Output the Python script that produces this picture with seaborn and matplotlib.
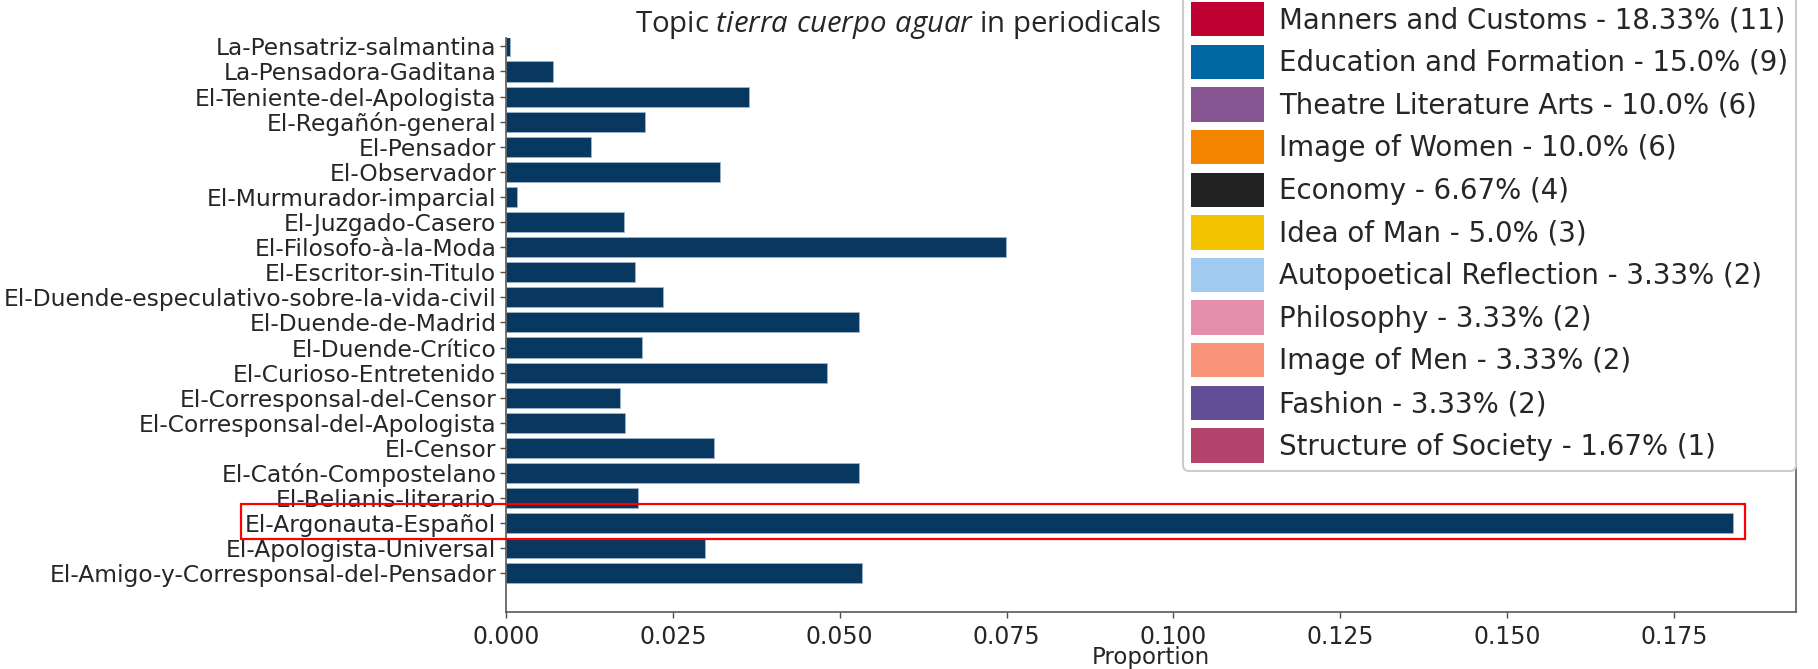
import matplotlib
matplotlib.use("Agg")
import matplotlib.pyplot as plt
import seaborn as sns
from matplotlib.patches import Patch, Rectangle

# ---- data ----
periodicals = [
    "La-Pensatriz-salmantina", "La-Pensadora-Gaditana", "El-Teniente-del-Apologista",
    "El-Regañón-general", "El-Pensador", "El-Observador", "El-Murmurador-imparcial",
    "El-Juzgado-Casero", "El-Filosofo-à-la-Moda", "El-Escritor-sin-Titulo",
    "El-Duende-especulativo-sobre-la-vida-civil", "El-Duende-de-Madrid",
    "El-Duende-Crítico", "El-Curioso-Entretenido", "El-Corresponsal-del-Censor",
    "El-Corresponsal-del-Apologista", "El-Censor", "El-Catón-Compostelano",
    "El-Belianis-literario", "El-Argonauta-Español", "El-Apologista-Universal",
    "El-Amigo-y-Corresponsal-del-Pensador",
]
proportions = [
    0.0006, 0.0070, 0.0364, 0.0209, 0.0127, 0.0321, 0.0016,
    0.0177, 0.0749, 0.0193, 0.0235, 0.0529,
    0.0204, 0.0481, 0.0171, 0.0179, 0.0311, 0.0529,
    0.0198, 0.1838, 0.0298, 0.0533,
]
highlight = "El-Argonauta-Español"

legend_labels = [
    "Manners and Customs - 18.33% (11)",
    "Education and Formation - 15.0% (9)",
    "Theatre Literature Arts - 10.0% (6)",
    "Image of Women - 10.0% (6)",
    "Economy - 6.67% (4)",
    "Idea of Man - 5.0% (3)",
    "Autopoetical Reflection - 3.33% (2)",
    "Philosophy - 3.33% (2)",
    "Image of Men - 3.33% (2)",
    "Fashion - 3.33% (2)",
    "Structure of Society - 1.67% (1)",
]
legend_colors = [
    "#BE0032", "#0067A5", "#875692", "#F38400", "#222222", "#F3C300",
    "#A1CAF1", "#E68FAC", "#F99379", "#604E97", "#B3446C",
]
bar_color = "#08375f"
xticks = [0, 0.025, 0.05, 0.075, 0.1, 0.125, 0.15, 0.175]

# ---- style ----
sns.set_style("white")
plt.rcParams["font.family"] = ["DejaVu Sans"]
plt.rcParams["mathtext.fontset"] = "custom"
plt.rcParams["mathtext.rm"] = "Open Sans"
plt.rcParams["mathtext.it"] = "Open Sans:italic"

W, H = 1818, 669
fig = plt.figure(figsize=(W / 100, H / 100), dpi=100)
ax = fig.add_axes([506 / W, 1 - 612 / H, (1796 - 506) / W, (612 - 38) / H])

sns.barplot(x=proportions, y=periodicals, order=periodicals, orient="h",
            color=bar_color, saturation=1, width=0.8, ax=ax,
            edgecolor="#9fb5c9", linewidth=0.6)

ax.set_xlim(0, 0.1933)
ax.set_ylim(22.54, -0.335)
ax.set_xticks(xticks)
ax.set_xticklabels([f"{t:.3f}" for t in xticks])
ax.set_xlabel("Proportion", fontsize=16.5)
ax.xaxis.set_label_coords(0.5, -0.0592)
ax.set_ylabel("")
ax.tick_params(axis="both", which="both", length=4, width=1, color="0.3",
               direction="out", left=True, bottom=True)
ax.tick_params(axis="y", labelsize=16.8, pad=3)
ax.tick_params(axis="x", labelsize=17, pad=5.5)
for s in ["left", "bottom", "right"]:
    ax.spines[s].set_visible(True)
    ax.spines[s].set_color("0.35")
    ax.spines[s].set_linewidth(1.2)
ax.spines["top"].set_visible(False)

# highlight box around the selected periodical row
rect = Rectangle((241 / W, (H - 538.7) / H), (1745 - 241) / W, 34.7 / H,
                 transform=fig.transFigure, fill=False, edgecolor="#ff0000",
                 linewidth=1.6, zorder=10)
fig.patches.append(rect)

# title
fig.text(898 / W, 1 - 32 / H,
         r"Topic $tierra\ cuerpo\ aguar$ in periodicals",
         ha="center", va="baseline", fontsize=21.2, family="Open Sans")

# legend
handles = [Patch(facecolor=c, edgecolor="none") for c in legend_colors]
fs = 19.9
F = fs * 100 / 72
leg = fig.legend(handles, legend_labels, loc="upper left",
                 bbox_to_anchor=(1183 / W, 1 + 6 / H), borderaxespad=0,
                 fontsize=fs, frameon=True, fancybox=True,
                 handlelength=72.7 / F, handleheight=1.535,
                 handletextpad=15 / F, labelspacing=0.30, borderpad=0.29)
leg.get_frame().set_edgecolor("0.8")
leg.get_frame().set_linewidth(1.5)
leg.get_frame().set_facecolor("white")
leg.get_frame().set_alpha(1)
leg.set_zorder(20)

fig.savefig("out.png", dpi=100)
